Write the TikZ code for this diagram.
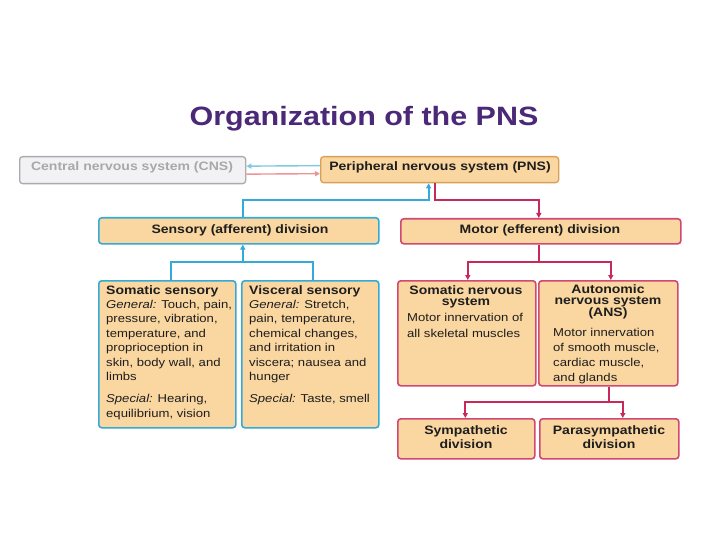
\documentclass[tikz,border=0pt]{standalone}
\usepackage{fontspec}
\setmainfont{Liberation Sans}[FakeStretch=1.15]
\usetikzlibrary{arrows.meta}
\definecolor{peach}{HTML}{FAD6A0}
\definecolor{pnsborder}{HTML}{D9A05A}
\definecolor{sblue}{HTML}{33AAD7}
\definecolor{mpink}{HTML}{C8285A}
\definecolor{cnsfill}{HTML}{F2F2F4}
\definecolor{cnsborder}{HTML}{AAAAAF}
\definecolor{cnstext}{HTML}{A8A8AC}
\definecolor{lblue}{HTML}{82C8E6}
\definecolor{lpink}{HTML}{EB9696}
\definecolor{titlepurple}{HTML}{4B2878}
\definecolor{txt}{HTML}{1E1E1E}
\tikzset{
  boxbase/.style={draw, rounded corners=3pt, fill=peach, line width=1.6pt, anchor=north west, inner sep=0pt},
  pnsbox/.style={boxbase, draw=pnsborder, line width=1.3pt},
  cnsbox/.style={boxbase, draw=cnsborder, fill=cnsfill, line width=1.3pt},
  bluebox/.style={boxbase, draw=sblue},
  pinkbox/.style={boxbase, draw=mpink!85},
  headtxt/.style={font=\fontsize{12.2}{11}\selectfont\bfseries, text=txt, inner sep=0pt},
  bodytxt/.style={font=\fontsize{11.4}{14.5}\selectfont, text=txt, inner sep=0pt, align=left, anchor=north west},
  bline/.style={draw=sblue, line width=2.2pt},
  pline/.style={draw=mpink, line width=2.2pt},
  tip/.style={-{Triangle[length=5pt,width=5pt]}},
}
\begin{document}
\begin{tikzpicture}[x=1pt,y=-1pt]
\useasboundingbox (0,0) rectangle (720,540);
\fill[white] (0,0) rectangle (720,540);
% title
\node[font=\fontsize{26.5}{30}\selectfont\bfseries, text=titlepurple, inner sep=0pt] (title) at (364,119) {Organization of the PNS};
% top boxes
\node[cnsbox, minimum width=226pt, minimum height=27pt] (cns) at (19,156) {};
\node[headtxt, text=cnstext] (cnst) at (132,167) {Central nervous system (CNS)};
\node[pnsbox, minimum width=238pt, minimum height=26pt] (pns) at (320,156) {};
\node[headtxt] (pnst) at (440,167) {Peripheral nervous system (PNS)};
% divisions
\node[bluebox, minimum width=280pt, minimum height=26pt] (sens) at (98,217) {};
\node[headtxt] (senst) at (240,230) {Sensory (afferent) division};
\node[pinkbox, minimum width=280pt, minimum height=25pt] (motor) at (400,218) {};
\node[headtxt] (motort) at (540,230) {Motor (efferent) division};
% sensory subdivisions
\node[bluebox, minimum width=137pt, minimum height=147pt] (ssom) at (98,280) {};
\node[bluebox, minimum width=137pt, minimum height=147pt] (svis) at (241,280) {};
\node[headtxt, anchor=north west] (ssomh) at (106,285) {Somatic sensory};
\node[bodytxt] (ssomb) at (106,300) {\textit{General:} Touch, pain,\\ pressure, vibration,\\ temperature, and\\ proprioception in\\ skin, body wall, and\\ limbs\\[7.5pt] \textit{Special:} Hearing,\\ equilibrium, vision};
\node[headtxt, anchor=north west] (svish) at (249,285) {Visceral sensory};
\node[bodytxt] (svisb) at (249,300) {\textit{General:} Stretch,\\ pain, temperature,\\ chemical changes,\\ and irritation in\\ viscera; nausea and\\ hunger\\[7.5pt] \textit{Special:} Taste, smell};
% motor subdivisions
\node[pinkbox, minimum width=138pt, minimum height=105pt] (sns) at (397,280) {};
\node[pinkbox, minimum width=139pt, minimum height=105pt] (ans) at (538,280) {};
\node[headtxt, anchor=north, align=center] (snsh) at (466,285) {Somatic nervous\\ system};
\node[bodytxt, font=\fontsize{11.4}{15.5}\selectfont] (snsb) at (407,313.5) {Motor innervation of\\ all skeletal muscles};
\node[headtxt, anchor=north, align=center, font=\fontsize{12.2}{11}\selectfont\bfseries] (ansh) at (608,284.5) {Autonomic\\ nervous system\\ (ANS)};
\node[bodytxt, font=\fontsize{11.4}{15}\selectfont] (ansb) at (553,328) {Motor innervation\\ of smooth muscle,\\ cardiac muscle,\\ and glands};
% ANS divisions
\node[pinkbox, minimum width=137pt, minimum height=40pt] (symp) at (397,418) {};
\node[pinkbox, minimum width=139pt, minimum height=40pt] (para) at (539,418) {};
\node[headtxt, align=center, font=\fontsize{12.2}{14}\selectfont\bfseries] (sympt) at (466,437) {Sympathetic\\ division};
\node[headtxt, align=center, font=\fontsize{12.2}{14}\selectfont\bfseries] (parat) at (609,437) {Parasympathetic\\ division};
% connectors CNS <-> PNS
\draw[draw=lblue, line width=1.4pt, tip] ([yshift=4pt]pns.west) -- ([yshift=4pt]cns.east);
\draw[draw=lpink, line width=1.4pt, tip] ([yshift=-4pt]cns.east) -- ([yshift=-4pt]pns.west);
% sensory -> PNS
\draw[bline, tip] ([xshift=4pt]sens.north) -- ++(0,-17) -| ([xshift=-11pt]pns.south);
% PNS -> motor
\draw[pline, tip] ([xshift=-5pt]pns.south) -- ++(0,17) -| ([xshift=-2pt]motor.north);
% somatic/visceral sensory -> sensory
\coordinate (sj) at ([xshift=4pt,yshift=-17pt]sens.south);
\draw[bline] ([xshift=3.5pt]ssom.north) |- (sj) -| ([xshift=3pt]svis.north);
\draw[bline, tip] (sj) -- ([xshift=4pt]sens.south);
% motor -> SNS, ANS
\coordinate (mj) at ([xshift=-2pt,yshift=-17pt]motor.south);
\draw[pline] ([xshift=-2pt]motor.south) -- (mj);
\draw[pline, tip] (mj) -| ([xshift=1pt]sns.north);
\draw[pline, tip] (mj) -| ([xshift=2.5pt]ans.north);
% ANS -> sympathetic, parasympathetic
\coordinate (aj) at ([xshift=0.5pt,yshift=-15pt]ans.south);
\draw[pline] ([xshift=0.5pt]ans.south) -- (aj);
\draw[pline, tip] (aj) -| ([xshift=-1pt]symp.north);
\draw[pline, tip] (aj) -| ([xshift=13.5pt]para.north);
\end{tikzpicture}
\end{document}
